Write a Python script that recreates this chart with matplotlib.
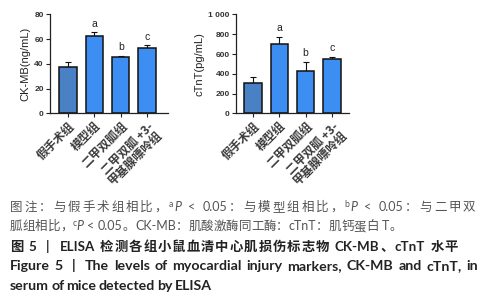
import re
import matplotlib
matplotlib.use("Agg")
import matplotlib.pyplot as plt

# data
groups = ["假手术组", "模型组", "二甲双胍组", "二甲双胍 +3-\n甲基腺嘌呤组"]
ckmb_mean = [37.7, 62.7, 45.3, 53.0]
ckmb_err = [4.0, 2.8, 1.2, 2.0]
ctnt_mean = [307, 697, 430, 550]
ctnt_err = [56, 76, 93, 23]
sig = ["", "a", "b", "c"]
ckmb_ticks = [0, 20, 40, 60, 80]
ctnt_ticks = [0, 200, 400, 600, 800, 1000]
ctnt_ticklabels = ["0", "200", "400", "600", "800", "1 000"]

bar_colors = ["#4a80c4", "#3d8ef2", "#3d8ef2", "#3d8ef2"]
CJK = ["Noto Sans CJK SC", "DejaVu Sans"]
LAT = ["Liberation Sans", "Noto Sans CJK SC"]
CAP = ["Lato", "Noto Sans CJK SC"]

fig = plt.figure(figsize=(5, 3), dpi=100)
fig.patch.set_facecolor("white")


def panel(rect, means, errs, ticks, ticklabels, ylabel, xlim):
    ax = fig.add_axes(rect)
    x = list(range(len(means)))
    ax.bar(x, means, width=0.66, color=bar_colors, edgecolor="#111111",
           linewidth=1.1, zorder=2)
    ax.errorbar(x, means, yerr=[[0] * len(errs), errs], fmt="none",
                ecolor="#111111", elinewidth=0.8, capsize=2.5, capthick=0.8,
                zorder=1)
    for i in x:
        if sig[i]:
            ax.annotate(sig[i], (i, means[i] + errs[i]), xytext=(0, 2.5),
                        textcoords="offset points", ha="center", va="bottom",
                        fontsize=7.5, family=LAT, color="#222222")
    ax.set_ylim(ticks[0], ticks[-1])
    ax.set_xlim(*xlim)
    ax.set_yticks(ticks)
    ax.set_yticklabels(ticklabels, family=LAT, fontsize=6,
                       fontweight="bold", color="#333333")
    ax.set_xticks(x)
    ax.set_xticklabels(groups, rotation=45, ha="right",
                       rotation_mode="anchor", family=CJK, fontsize=8.5,
                       fontweight="bold", color="#3a3a3a", linespacing=0.95)
    ax.set_ylabel(ylabel, family=LAT, fontsize=8, color="#222222",
                  labelpad=3)
    for s in ["top", "right"]:
        ax.spines[s].set_visible(False)
    for s in ["left", "bottom"]:
        ax.spines[s].set_linewidth(0.9)
        ax.spines[s].set_color("#222222")
    ax.tick_params(axis="both", length=3, width=0.8, color="#222222", pad=1.5)
    return ax


panel([0.100, 0.622, 0.236, 0.330], ckmb_mean, ckmb_err, ckmb_ticks,
      [str(t) for t in ckmb_ticks], "CK-MB(ng/mL)", (-0.69, 3.8))
panel([0.472, 0.622, 0.226, 0.330], ctnt_mean, ctnt_err, ctnt_ticks,
      ctnt_ticklabels, "cTnT(pg/mL)", (-0.65, 3.65))

# caption, laid out token by token so each line fills its width
gray = dict(family=CAP, color="#555555", fontsize=9.0)
gray_i = dict(gray, style="italic")
gray_sup = dict(gray, fontsize=6.2)
bold = dict(family=CAP, color="#222222", fontsize=9.6, fontweight="bold")
bold_en = dict(bold, fontsize=10.2)

renderer = fig.canvas.get_renderer()


def line(segs, y_px, x0=10, x1=None):
    toks = []
    for s, kw in segs:
        for tk in re.findall(r"[A-Za-z0-9\-\.,<|()/+]+| |.", s):
            toks.append((tk, kw))
    placed = []
    for tk, kw in toks:
        if tk == " ":
            placed.append((None, kw["fontsize"] * 0.25 * 100 / 72, kw))
            continue
        t = fig.text(0, 1 - y_px / 300, tk, va="baseline", ha="left", **kw)
        placed.append((t, t.get_window_extent(renderer).width, kw))
    natural = sum(p[1] for p in placed)
    gap = 0 if x1 is None else (x1 - x0 - natural) / max(len(placed) - 1, 1)
    x = x0
    for t, w, kw in placed:
        if t is not None:
            t.set_x(x / 500)
            if kw is gray_sup:
                t.set_y(1 - (y_px - 4) / 300)
        x += w + (gap * 0.3 if kw is gray_sup else gap)


line([("图注：与假手术组相比，", gray), ("a", gray_sup), ("P", gray_i),
      (" < 0.05：与模型组相比，", gray), ("b", gray_sup), ("P", gray_i),
      (" < 0.05：与二甲双", gray)], 211, x1=478)
line([("胍组相比，", gray), ("c", gray_sup), ("P", gray_i),
      (" < 0.05。CK-MB：肌酸激酶同工酶：cTnT：肌钙蛋白 T。", gray)], 230, x1=402)
line([("图 5  |  ELISA 检测各组小鼠血清中心肌损伤标志物 CK-MB、cTnT 水平", bold)],
     251, x1=458)
line([("Figure 5  |  The levels of myocardial injury markers, CK-MB and cTnT, in",
       bold_en)], 270, x1=478)
line([("serum of mice detected by ELISA", bold_en)], 290, x1=212)

fig.savefig("out.png", dpi=100, facecolor="white")
